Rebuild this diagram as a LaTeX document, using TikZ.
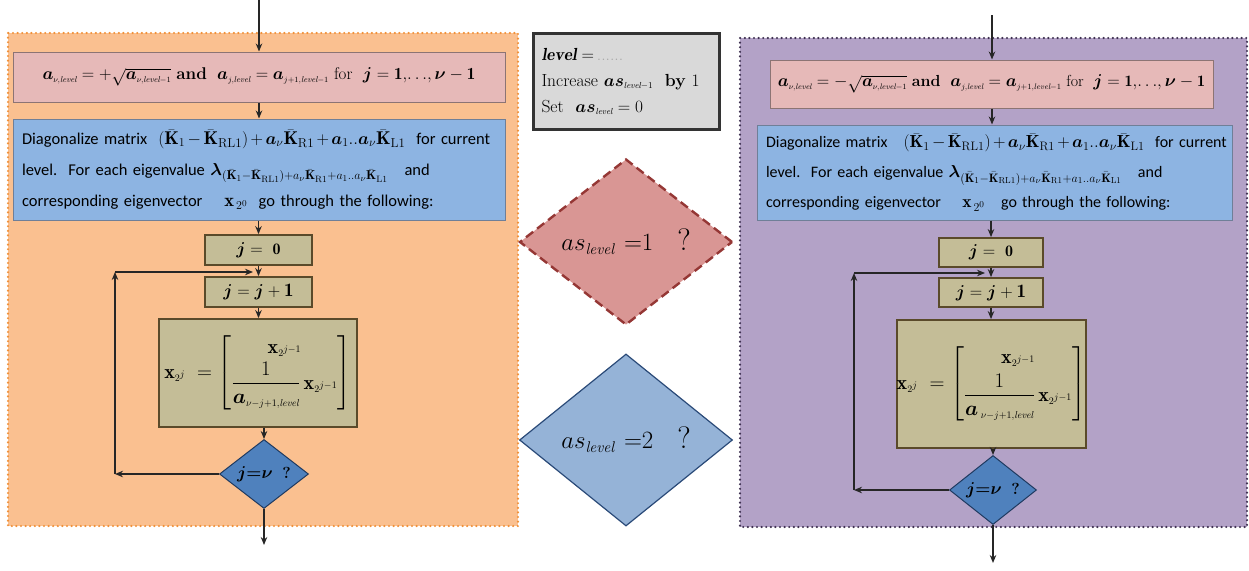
\documentclass[tikz,border=0pt]{standalone}
\usepackage{amsmath,bm}
\usepackage{fontspec}
\newfontfamily\calib{Carlito}
\usetikzlibrary{shapes.geometric,arrows.meta}
\definecolor{orbg}{HTML}{FAC090}
\definecolor{orbd}{HTML}{F0913A}
\definecolor{pubg}{HTML}{B3A2C7}
\definecolor{pubd}{HTML}{3F3151}
\definecolor{pinkf}{HTML}{E6B9B8}
\definecolor{pinkd}{HTML}{8C7474}
\definecolor{bluef}{HTML}{8DB4E2}
\definecolor{blued}{HTML}{6F7F98}
\definecolor{khakif}{HTML}{C4BD97}
\definecolor{khakid}{HTML}{5A4A2A}
\definecolor{dmf}{HTML}{4F81BD}
\definecolor{dmd}{HTML}{1F3A60}
\definecolor{pdf}{HTML}{D99694}
\definecolor{pdd}{HTML}{953735}
\definecolor{bdf}{HTML}{95B3D7}
\definecolor{bdd}{HTML}{2A4A78}
\definecolor{grayf}{HTML}{D9D9D9}
\definecolor{grayd}{HTML}{333333}
\newcommand{\Kb}{\bar{\mathbf K}}
\newcommand{\lv}{\mathit{level}}
\newcommand{\ssc}[1]{{\scriptscriptstyle #1}}
\newcommand{\bigmath}[1]{{\fontsize{18.5}{31}\selectfont\medmuskip=2.5mu$#1$}}
\newcommand{\bigmathR}[1]{{\fontsize{17.5}{30}\selectfont\medmuskip=2.5mu$#1$}}
\tikzset{
  arr/.style={-{Stealth[length=8pt,width=6.5pt]}, line width=1.4pt, draw=black!85},
  panel/.style={line width=2.4pt, dash pattern=on 0pt off 4.6pt, line cap=round},
  pinkbox/.style={rectangle, draw=pinkd, fill=pinkf, line width=1pt, inner sep=0pt,
    font=\fontsize{17}{20}\selectfont},
  bluebox/.style={rectangle, draw=blued, fill=bluef, line width=1pt, inner ysep=0pt,
    align=left, font=\calib\fontsize{16.5}{31}\selectfont},
  khaki/.style={rectangle, draw=khakid, fill=khakif, line width=1.8pt, inner sep=0pt},
  smalldia/.style={diamond, draw=dmd, fill=dmf, line width=1pt, inner sep=0pt,
    font=\fontsize{16}{18}\selectfont},
}
\begin{document}
\begin{tikzpicture}[x=1pt,y=-1pt]
\useasboundingbox (0,0) rectangle (1249,570);
% ---------------- left panel ----------------
\path[fill=orbg] (8,33) rectangle (518,526);
\draw[panel, draw=orbd] (8,33) rectangle (518,526);
\coordinate (topL) at (259,0);
\node[pinkbox, minimum width=492pt, minimum height=50pt] (pinkL) at (259,77)
  {$\bm a_{\ssc{\nu,\lv}} = +\sqrt{\bm a_{\ssc{\nu,\lv-1}}}$ \textbf{and} \ $\bm a_{\ssc{j,\lv}} = \bm a_{\ssc{j+1,\lv-1}}$ for \ $\bm j = \mathbf 1,\!\ldots\!,\bm \nu-\mathbf 1$};
\node[bluebox, inner xsep=9pt, text width=474pt, minimum height=101pt] (blueL) at (259,169.5)
  {\mbox{Diagonalize matrix \ \bigmath{(\Kb_1-\Kb_{\mathrm{RL1}})+\bm a_\nu\Kb_{\mathrm{R1}}+\bm a_1..\bm a_\nu\Kb_{\mathrm{L1}}} \ for current}\\
   \mbox{level.\ \ For each eigenvalue \bigmath{\bm\lambda_{(\Kb_1-\Kb_{\mathrm{RL1}})+a_\nu\Kb_{\mathrm{R1}}+a_1..a_\nu\Kb_{\mathrm{L1}}}} \ \ and}\\
   \mbox{corresponding eigenvector \ \ \ \bigmath{\mathbf x_{\,2^0}} \ go through the following:}};
\node[khaki, minimum width=107pt, minimum height=30pt, font=\fontsize{16}{18}\selectfont] (j0L) at (258.5,250) {$\bm j = \ \mathbf 0$};
\node[khaki, minimum width=107pt, minimum height=30pt, font=\fontsize{19}{20}\selectfont] (j1L) at (258.5,292) {$\bm j = \bm j + \mathbf 1$};
\node[khaki, minimum width=198pt, minimum height=108pt, font=\fontsize{20}{22}\selectfont] (bigL) at (258,373)
  {$\mathbf x_{\ssc{2^j}} \;= \begin{bmatrix} \mathbf x_{\ssc{2^{j-1}}} \\[2pt] \dfrac{1}{\bm a_{\ssc{\nu-j+1,\lv}}}\,\mathbf x_{\ssc{2^{j-1}}}\end{bmatrix}$};
\node[smalldia, minimum width=89pt, minimum height=64pt] (dL) at (264,474) {$\bm{j{=}\nu}$ \ \textbf{?}};
\coordinate (lpL1) at (115,474);
\coordinate (lpL2) at (115,272);
\coordinate (lpL3) at (253,272);
\coordinate (botL) at (264,545);
\draw[arr] (topL) -- (pinkL.north);
\draw[arr] (pinkL.south) -- (blueL.north);
\draw[arr] (blueL.south -| j0L.north) -- (j0L.north);
\draw[arr] (j0L.south) -- (j1L.north);
\draw[arr] (j1L.south) -- (bigL.north -| j1L.south);
\draw[arr] (bigL.south -| dL.north) -- (dL.north);
\draw[arr] (dL.west) -- (lpL1);
\draw[arr] (lpL1) -- (lpL2);
\draw[arr] (lpL2) -- (lpL3);
\draw[arr] (dL.south) -- (botL);
% ---------------- centre ----------------
\node[rectangle, draw=grayd, fill=grayf, line width=2.6pt, minimum width=186pt, minimum height=96pt,
  inner xsep=8pt, text width=170pt, align=left, font=\fontsize{17.5}{26}\selectfont] (info) at (626.5,81.5)
  {$\bm{\lv} = $\,{\color{black!35}......}\\
   Increase $\bm{as}_{\ssc{\lv-1}}$ \ \textbf{by} 1\\
   Set \ $\bm{as}_{\ssc{\lv}} = 0$};
\node[diamond, draw=pdd, fill=pdf, line width=2.4pt, dash pattern=on 9pt off 5pt, inner sep=0pt,
  minimum width=213pt, minimum height=166pt, font=\fontsize{31}{34}\selectfont] (pd) at (626,242)
  {$as_{\ssc{\lv}}\ {=}1$ \ \,?};
\node[diamond, draw=bdd, fill=bdf, line width=1.2pt, inner sep=0pt,
  minimum width=213pt, minimum height=172pt, font=\fontsize{31}{34}\selectfont] (bd) at (626,440)
  {$as_{\ssc{\lv}}\ {=}2$ \ \,?};
% ---------------- right panel ----------------
\path[fill=pubg] (740,38) rectangle (1247,527);
\draw[panel, draw=pubd] (740,38) rectangle (1247,527);
\coordinate (topR) at (992,15);
\node[pinkbox, minimum width=443pt, minimum height=48pt, font=\fontsize{16}{19}\selectfont] (pinkR) at (991.5,84)
  {$\bm a_{\ssc{\nu,\lv}} = -\sqrt{\bm a_{\ssc{\nu,\lv-1}}}$ \textbf{and} \ $\bm a_{\ssc{j,\lv}} = \bm a_{\ssc{j+1,\lv-1}}$ for \ $\bm j = \mathbf 1,\!\ldots\!,\bm \nu-\mathbf 1$};
\node[bluebox, inner xsep=9pt, text width=457pt, minimum height=95pt, font=\calib\fontsize{16}{30}\selectfont] (blueR) at (994.5,172.5)
  {\mbox{Diagonalize matrix \ \ \bigmathR{(\Kb_1-\Kb_{\mathrm{RL1}})+\bm a_\nu\Kb_{\mathrm{R1}}+\bm a_1..\bm a_\nu\Kb_{\mathrm{L1}}} \ for current}\\
   \mbox{level.\ \ For each eigenvalue \bigmathR{\bm\lambda_{(\Kb_1-\Kb_{\mathrm{RL1}})+a_\nu\Kb_{\mathrm{R1}}+a_1..a_\nu\Kb_{\mathrm{L1}}}} \ \ and}\\
   \mbox{corresponding eigenvector \ \ \ \bigmathR{\mathbf x_{\,2^0}} \ \ go through the following:}};
\node[khaki, minimum width=104pt, minimum height=29pt, font=\fontsize{16}{18}\selectfont] (j0R) at (991,252.5) {$\bm j = \ \mathbf 0$};
\node[khaki, minimum width=104pt, minimum height=29pt, font=\fontsize{19}{20}\selectfont] (j1R) at (991,292.5) {$\bm j = \bm j + \mathbf 1$};
\node[khaki, minimum width=189pt, minimum height=128pt, font=\fontsize{20}{22}\selectfont] (bigR) at (991.5,384)
  {$\mathbf x_{\ssc{2^j}} \;= \begin{bmatrix} \mathbf x_{\ssc{2^{j-1}}} \\[4pt] \dfrac{1}{\bm a_{\,\ssc{\nu-j+1,\lv}}}\,\mathbf x_{\ssc{2^{j-1}}}\end{bmatrix}$};
\node[smalldia, minimum width=87pt, minimum height=63pt] (dR) at (993,490) {$\bm{j{=}\nu}$ \ \textbf{?}};
\coordinate (lpR1) at (854,490);
\coordinate (lpR2) at (854,273);
\coordinate (lpR3) at (985,273);
\coordinate (botR) at (993,563);
\draw[arr] (topR) -- (pinkR.north -| topR);
\draw[arr] (pinkR.south -| topR) -- (blueR.north -| topR);
\draw[arr] (blueR.south -| j0R.north) -- (j0R.north);
\draw[arr] (j0R.south) -- (j1R.north);
\draw[arr] (j1R.south) -- (bigR.north -| j1R.south);
\draw[arr] (bigR.south -| dR.north) -- (dR.north);
\draw[arr] (dR.west) -- (lpR1);
\draw[arr] (lpR1) -- (lpR2);
\draw[arr] (lpR2) -- (lpR3);
\draw[arr] (dR.south) -- (botR);
\end{tikzpicture}
\end{document}
